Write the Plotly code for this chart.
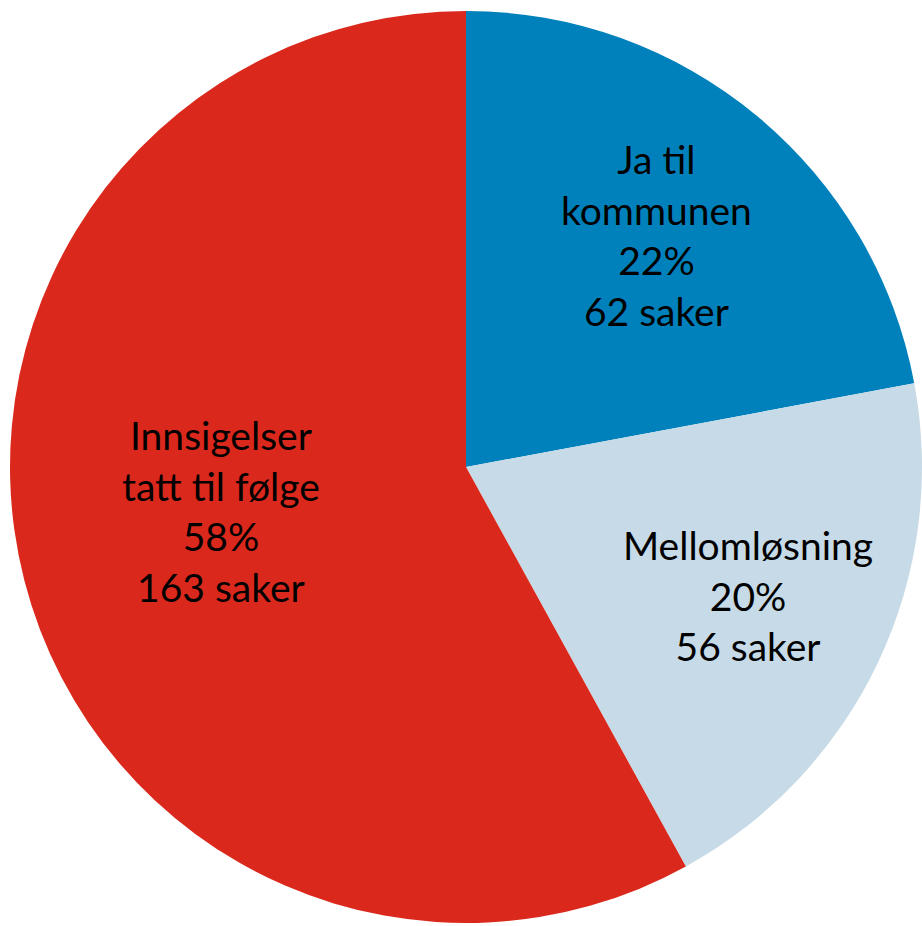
import numpy as np
import plotly.graph_objects as go

labels = ["Ja til<br>kommunen", "Mellomløsning", "Innsigelser<br>tatt til følge"]
values = [62, 56, 163]
colors = ["#0081BC", "#C6DAE7", "#DA291C"]

W, H = 922, 926
# pie geometry (figure pixels)
cx_px, cy_px, R_px = 467, 467, 457
label_frac = [0.65, 0.68, 0.545]
label_nudge = [(0, -4), (0, -4), (-5, -18)]

fig = go.Figure(go.Pie(
    labels=labels,
    values=values,
    sort=False,
    direction="clockwise",
    rotation=0,
    marker=dict(colors=colors, line=dict(width=0)),
    textinfo="none",
    hoverinfo="label+value+percent",
    domain=dict(x=[max(0, (cx_px - R_px) / W), min(1, (cx_px + R_px) / W)],
                y=[max(0, 1 - (cy_px + R_px) / H), min(1, 1 - (cy_px - R_px) / H)]),
    showlegend=False,
))

vals = np.array(values, dtype=float)
total = vals.sum()
cum = np.cumsum(vals) - vals / 2
for lab, v, c, f, (ndx, ndy) in zip(labels, values, cum, label_frac, label_nudge):
    a = c / total * 2 * np.pi
    x = (cx_px + f * R_px * np.sin(a) + ndx) / W
    y = 1 - (cy_px - f * R_px * np.cos(a) + ndy) / H
    pct = round(v / total * 100)
    fig.add_annotation(
        x=x, y=y, xref="paper", yref="paper",
        text=f"{lab}<br>{pct}%<br>{v} saker",
        showarrow=False, xanchor="center", yanchor="middle",
        font=dict(family="Lato", size=39, color="#000000"),
    )

fig.update_layout(
    width=W, height=H,
    margin=dict(l=0, r=0, t=0, b=0),
    paper_bgcolor="white",
)
fig.write_html(
    "out.html",
    config={"displayModeBar": False},
    post_script="document.body.style.margin='0';document.body.style.overflow='hidden';",
)
